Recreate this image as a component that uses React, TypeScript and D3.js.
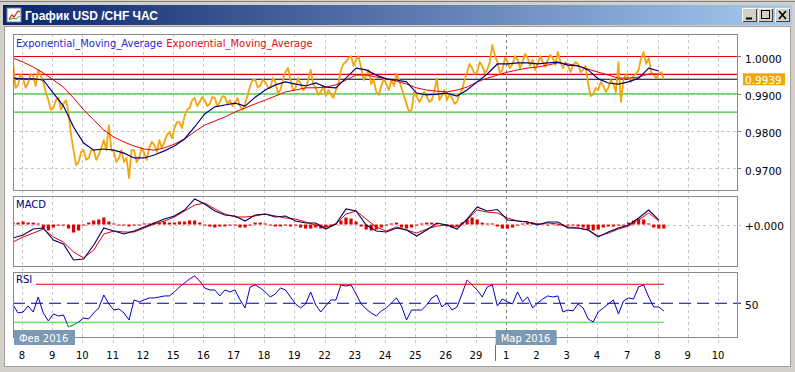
import React from 'react';
import * as d3 from 'd3';

// ---------- data ----------
const dayLabels = ['8','9','10','11','12','15','16','17','18','19','22','23','24','25','26','29','1','2','3','4','7','8','9','10'];
const monthLabels = ['Фев 2016', 'Мар 2016'];
const monthDays = [0, 16];
const priceTicks = [1.0, 0.99, 0.98, 0.97];
const redLevels = [1.0, 0.9952];
const greenLevels = [0.99, 0.9851];
const lastPrice = 0.9939;
const rsiLevels = [70, 50, 30];
const START_HOUR = -7;

// close, every 2 hours
const price = [
  0.9985,0.9916,0.9924,0.9953,0.9942,0.9916,0.9929,0.9953,0.9948,0.9921,
  0.9964,0.9948,0.9932,0.9905,0.9883,0.9857,0.9862,0.9883,0.9889,0.9857,
  0.9873,0.9883,0.9851,0.9790,0.9749,0.9709,0.9717,0.9744,0.9749,0.9723,
  0.9728,0.9749,0.9749,0.9723,0.9736,0.9755,0.9776,0.9749,0.9816,0.9749,
  0.9744,0.9717,0.9728,0.9749,0.9717,0.9728,0.9674,0.9749,0.9749,0.9717,
  0.9728,0.9755,0.9741,0.9723,0.9755,0.9771,0.9763,0.9744,0.9776,0.9755,
  0.9771,0.9790,0.9798,0.9781,0.9808,0.9824,0.9824,0.9808,0.9840,0.9857,
  0.9862,0.9883,0.9889,0.9867,0.9878,0.9891,0.9883,0.9867,0.9873,0.9891,
  0.9889,0.9867,0.9878,0.9894,0.9891,0.9873,0.9883,0.9867,0.9875,0.9889,
  0.9867,0.9857,0.9873,0.9897,0.9921,0.9937,0.9937,0.9918,0.9921,0.9937,
  0.9932,0.9918,0.9916,0.9942,0.9932,0.9902,0.9910,0.9937,0.9958,0.9969,
  0.9937,0.9910,0.9916,0.9942,0.9926,0.9910,0.9916,0.9937,0.9964,0.9926,
  0.9916,0.9897,0.9905,0.9921,0.9894,0.9910,0.9899,0.9889,0.9910,0.9926,
  0.9964,0.9980,0.9985,0.9996,1.0001,0.9975,0.9991,1.0001,0.9969,0.9937,
  0.9948,0.9964,0.9926,0.9937,0.9905,0.9897,0.9921,0.9942,0.9926,0.9910,
  0.9937,0.9921,0.9953,0.9937,0.9916,0.9894,0.9873,0.9851,0.9857,0.9905,
  0.9894,0.9878,0.9889,0.9905,0.9894,0.9878,0.9883,0.9905,0.9942,0.9883,
  0.9894,0.9910,0.9883,0.9899,0.9889,0.9873,0.9878,0.9899,0.9910,0.9937,
  0.9958,0.9980,0.9969,0.9953,0.9958,0.9985,0.9975,0.9956,0.9964,0.9985,
  1.0031,1.0004,0.9985,0.9956,0.9964,0.9996,0.9985,0.9969,0.9980,1.0001,
  0.9991,0.9969,0.9985,1.0007,0.9996,0.9975,0.9991,0.9964,0.9980,1.0001,
  0.9985,0.9972,0.9991,1.0004,0.9996,0.9977,1.0012,0.9985,0.9969,0.9985,
  0.9975,0.9958,0.9977,0.9985,0.9980,0.9958,0.9964,0.9975,0.9926,0.9894,
  0.9899,0.9916,0.9910,0.9932,0.9921,0.9905,0.9916,0.9937,0.9926,0.9905,
  0.9985,0.9878,0.9937,0.9953,0.9942,0.9932,0.9948,0.9953,0.9964,0.9996,
  1.0012,0.9980,0.9996,0.9958,0.9950,0.9942,0.9953,0.9958,0.9939
];

// EMAs, every 8 hours
const emaFast = [
  0.9942,0.9940,0.9940,0.9937,0.9902,0.9867,0.9811,0.9768,0.9749,0.9752,
  0.9749,0.9741,0.9728,0.9728,0.9736,0.9747,0.9760,0.9779,0.9811,0.9846,
  0.9865,0.9870,0.9875,0.9867,0.9891,0.9910,0.9924,0.9932,0.9926,0.9921,
  0.9929,0.9918,0.9916,0.9942,0.9969,0.9964,0.9950,0.9940,0.9937,0.9932,
  0.9902,0.9897,0.9899,0.9902,0.9894,0.9910,0.9932,0.9953,0.9980,0.9980,
  0.9983,0.9983,0.9980,0.9983,0.9985,0.9977,0.9975,0.9964,0.9940,0.9929,
  0.9926,0.9932,0.9942,0.9969,0.9961
];
const emaSlow = [
  0.9996,0.9985,0.9972,0.9956,0.9937,0.9918,0.9889,0.9857,0.9830,0.9803,
  0.9784,0.9771,0.9760,0.9752,0.9749,0.9755,0.9765,0.9779,0.9798,0.9816,
  0.9827,0.9838,0.9851,0.9862,0.9873,0.9883,0.9894,0.9905,0.9910,0.9916,
  0.9916,0.9918,0.9924,0.9937,0.9950,0.9950,0.9945,0.9940,0.9934,0.9926,
  0.9916,0.9910,0.9907,0.9905,0.9910,0.9918,0.9932,0.9942,0.9950,0.9958,
  0.9964,0.9969,0.9972,0.9977,0.9983,0.9980,0.9975,0.9966,0.9958,0.9950,
  0.9942,0.9942,0.9945,0.9953,0.9953
];

// MACD in pips, every 8 hours
const macdMain = [
  -10.4,-8.1,-3.5,-2.7,-12.0,-15.0,-27.4,-26.6,-15.8,-2.7,
  -5.0,-7.3,-5.0,-1.9,1.2,4.2,6.6,11.2,19.7,15.8,
  10.4,7.3,6.6,2.7,7.3,8.1,5.8,6.6,2.7,1.2,
  1.2,-3.5,0.4,12.0,10.4,-0.4,-5.0,-5.8,-2.7,-4.2,
  -8.9,-4.2,1.2,-0.4,-3.5,4.2,13.5,10.4,11.6,3.5,
  2.7,1.9,-0.4,1.9,1.9,-2.7,-2.7,-4.2,-9.6,-5.8,
  -2.7,-0.4,5.0,11.2,3.5
];
const macdSignal = [
  -13.5,-9.6,-6.6,-3.5,-9.6,-13.5,-21.2,-25.8,-19.7,-7.3,
  -5.0,-5.8,-5.8,-2.7,0.4,2.7,5.8,10.4,15.0,16.6,
  12.0,8.1,5.8,5.8,6.6,8.1,6.6,5.0,4.2,1.9,
  -0.4,-1.9,0.4,8.1,10.4,4.2,-1.9,-5.0,-1.9,-4.2,
  -6.6,-3.5,-1.2,-0.4,-1.9,3.5,11.2,9.6,8.9,5.0,
  2.7,1.9,0.4,1.2,0.4,-1.9,-2.7,-4.2,-8.9,-6.6,
  -3.5,-1.2,3.5,8.9,2.7
];
// histogram in pips, every 4 hours
const macdHist = [
  1.5,1.5,2.3,1.5,1.5,0.8,-3.1,-4.6,-2.3,-0.8,
  -0.8,-3.1,-6.2,-4.6,-0.8,1.5,3.1,3.9,5.4,2.3,
  0.8,0,-0.8,-1.5,-0.8,0,0.8,0.8,1.5,1.5,
  2.3,1.5,1.5,2.3,2.3,3.1,3.1,1.5,-0.8,-1.5,
  -2.3,-1.5,-1.5,-0.8,-0.8,-2.3,-2.3,-0.8,1.5,1.5,
  0.8,-0.8,-1.5,-1.5,-0.8,-1.5,-0.8,-2.3,-3.1,-3.1,
  -2.3,-3.1,-2.3,-1.5,0.8,3.1,5.4,4.6,2.3,-1.5,
  -3.9,-4.6,-3.9,-2.3,-0.8,0.8,1.5,-2.3,-3.1,-2.3,
  -0.8,0.8,1.5,1.5,0.8,0,-1.5,-2.3,-1.5,1.5,
  3.9,5.4,3.9,1.5,0.8,0.8,-1.5,-3.1,-3.1,-2.3,
  -0.8,0.8,1.5,1.5,0.8,0.8,0,0.8,0,-0.8,
  -0.8,-0.8,-1.5,-2.3,-3.9,-4.6,-3.9,-2.3,-1.5,-1.5,
  -0.8,-0.8,1.5,3.1,4.6,3.9,0.8,-2.3,-3.1,-3.1
];

// RSI, every 4 hours
const rsi = [
  48.2,39.8,40.8,47.2,40.8,56.6,39.8,31.4,38.7,36.6,
  37.7,25.1,27.2,30.3,34.5,33.5,39.8,45.1,58.7,49.3,
  42.9,44.0,39.8,32.4,53.5,51.4,53.5,55.6,55.6,56.6,
  57.7,57.7,61.9,67.2,71.4,75.6,78.7,73.5,66.1,64.0,
  64.0,57.7,64.0,61.9,64.0,53.5,45.1,67.2,69.3,66.1,
  61.9,56.6,59.8,66.1,64.0,56.6,49.3,45.1,49.3,61.9,
  48.2,40.8,47.2,53.5,53.5,69.3,68.2,69.3,59.8,49.3,
  44.0,39.8,36.6,41.9,45.1,50.3,55.6,47.2,32.4,42.9,
  42.9,42.9,48.2,55.6,58.7,46.1,50.3,42.9,46.1,59.8,
  74.5,69.3,64.0,56.6,67.2,69.3,47.2,54.5,51.4,49.3,
  61.9,51.4,56.6,45.1,50.3,54.5,57.7,56.6,57.7,40.8,
  42.9,41.9,49.3,45.1,33.5,30.3,40.8,45.1,49.3,53.5,
  38.7,52.4,55.6,54.5,67.2,69.3,56.6,46.1,46.1,41.9
];

// ---------- layout ----------
const W = 795, H = 372;
const L = 13, R = 737;
const MAIN = { top: 34, bottom: 190 };
const MACD = { top: 196, bottom: 266 };
const RSIP = { top: 272, bottom: 337 };
const FONT = '"DejaVu Sans", Verdana, sans-serif';
const ORANGE = '#f2a60c';

export default function App() {
  const x = d3.scaleLinear().domain([-7, 567]).range([L, R]);
  const yP = d3.scaleLinear().domain([0.96421, 1.00603]).range([MAIN.bottom, MAIN.top]);
  const yM = d3.scaleLinear().domain([-32, 22]).range([MACD.bottom, MACD.top]);
  const yR = d3.scaleLinear().domain([14.5, 82.9]).range([RSIP.bottom, RSIP.top]);
  const hAt = (step: number) => (i: number) => START_HOUR + i * step;
  const h4 = hAt(4);

  const lineStep = (step: number, ys: (v: number) => number) =>
    d3.line<number>().x((_, i) => x(hAt(step)(i))).y((d) => ys(d));

  const dayX = dayLabels.map((_, d) => x(24 * d));
  const gridBottom = 346;

  const panel = (p: { top: number; bottom: number }, key: string) => (
    <rect key={key} x={L + 0.5} y={p.top + 0.5} width={R - L} height={p.bottom - p.top}
      fill="none" stroke="#8a8a8a" strokeWidth={1} shapeRendering="crispEdges" />
  );

  const btn = (bx: number, glyph: React.ReactNode, key: string) => (
    <g key={key}>
      <rect x={bx} y={8} width={15} height={14} fill="#d4d0c8" />
      <path d={`M${bx + 0.5},${21.5}V${8.5}H${bx + 14.5}`} stroke="#ffffff" fill="none" shapeRendering="crispEdges" />
      <path d={`M${bx + 0.5},${21.5}H${bx + 14.5}V${8.5}`} stroke="#404040" fill="none" shapeRendering="crispEdges" />
      {glyph}
    </g>
  );

  const rsiPath = lineStep(4, yR)(rsi) || '';

  return (
    <svg width={W} height={H} style={{ position: 'absolute', left: 0, top: 0 }} fontFamily={FONT}>
      <defs>
        <linearGradient id="tb" x1="0" x2="1" y1="0" y2="0">
          <stop offset="0" stopColor="#0a246a" />
          <stop offset="1" stopColor="#a6caf0" />
        </linearGradient>
        <clipPath id="cMain"><rect x={L} y={MAIN.top} width={R - L} height={MAIN.bottom - MAIN.top} /></clipPath>
        <clipPath id="cMacd"><rect x={L} y={MACD.top} width={R - L} height={MACD.bottom - MACD.top} /></clipPath>
        <clipPath id="cRsiHi"><rect x={L} y={RSIP.top} width={R - L} height={yR(70) - RSIP.top} /></clipPath>
        <clipPath id="cRsiLo"><rect x={L} y={yR(30)} width={R - L} height={RSIP.bottom - yR(30)} /></clipPath>
      </defs>

      {/* window chrome */}
      <rect x={0} y={0} width={W} height={H} fill="#d4d0c8" />
      <line x1={0} y1={1.5} x2={W} y2={1.5} stroke="#808080" />
      <rect x={3} y={5} width={789} height={20} fill="url(#tb)" />
      <rect x={4} y={26} width={786} height={340} fill="#ffffff" stroke="#a0a0a0" shapeRendering="crispEdges" />

      {/* title */}
      <rect x={7} y={8} width={14} height={14} fill="#ffffff" stroke="#7080a0" />
      <polyline points="9,19 12,15 14,17 18,11 20,12" fill="none" stroke="#d02020" strokeWidth={1.2} />
      <polyline points="9,20 13,18 16,19 20,16" fill="none" stroke="#20a020" strokeWidth={1} />
      <text x={25} y={20} fill="#ffffff" fontFamily='"Liberation Sans", Arial, sans-serif' fontWeight="bold" fontSize={12}>
        График USD /CHF  ЧАС
      </text>
      {btn(742, <line x1={746} y1={18.5} x2={752} y2={18.5} stroke="#000" strokeWidth={2} />, 'b1')}
      {btn(758, <rect x={761.5} y={10.5} width={8} height={8} fill="none" stroke="#000" strokeWidth={1} />, 'b2')}
      {btn(775, <path d="M779,11L786,19M786,11L779,19" stroke="#000" strokeWidth={1.6} />, 'b3')}

      {/* vertical grid */}
      {dayX.map((dx, d) => (
        <line key={'vg' + d} x1={Math.round(dx) + 0.5} x2={Math.round(dx) + 0.5} y1={MAIN.top} y2={gridBottom}
          stroke={d === monthDays[1] ? '#808080' : '#c8c8c8'} strokeDasharray="3,3" shapeRendering="crispEdges" />
      ))}

      {/* horizontal grid main */}
      {priceTicks.map((t) => (
        <line key={'hg' + t} x1={L} x2={R} y1={Math.round(yP(t)) + 0.5} y2={Math.round(yP(t)) + 0.5}
          stroke="#c8c8c8" strokeDasharray="3,3" shapeRendering="crispEdges" />
      ))}

      {/* level lines */}
      {redLevels.map((v) => (
        <line key={'rl' + v} x1={L} x2={R} y1={yP(v)} y2={yP(v)} stroke="#e00000" strokeWidth={1.2} />
      ))}
      {greenLevels.map((v) => (
        <line key={'gl' + v} x1={L} x2={R} y1={yP(v)} y2={yP(v)} stroke="#3cc83c" strokeWidth={1.2} />
      ))}
      <line x1={L} x2={R} y1={yP(lastPrice)} y2={yP(lastPrice)} stroke="#000000" strokeWidth={1.2} />

      {/* price + EMAs */}
      <g clipPath="url(#cMain)">
        <path d={lineStep(2, yP)(price) || ''} fill="none" stroke={ORANGE} strokeWidth={1.8} strokeLinejoin="round" />
        <path d={lineStep(8, yP)(emaSlow) || ''} fill="none" stroke="#e00000" strokeWidth={1} />
        <path d={lineStep(8, yP)(emaFast) || ''} fill="none" stroke="#000080" strokeWidth={1.2} />
      </g>

      {/* legend */}
      <text x={16} y={47} fontSize={10}>
        <tspan fill="#2a2ad0">Exponential_Moving_Average</tspan>
        <tspan fill="#e01010" dx={4}>Exponential_Moving_Average</tspan>
      </text>

      {/* price axis */}
      {priceTicks.map((t) => (
        <g key={'pt' + t}>
          <line x1={R} x2={R + 4} y1={Math.round(yP(t)) + 0.5} y2={Math.round(yP(t)) + 0.5} stroke="#808080" />
          <text x={745} y={yP(t) + 6.3} fontSize={10.5} fill="#000">{t.toFixed(4)}</text>
        </g>
      ))}
      <rect x={743} y={yP(lastPrice) - 6} width={42} height={12} fill={ORANGE} />
      <text x={745} y={yP(lastPrice) + 4.5} fontSize={10.5} fill="#ffffff">{lastPrice.toFixed(4)}</text>

      {/* MACD */}
      <line x1={L} x2={R + 4} y1={Math.round(yM(0)) + 0.5} y2={Math.round(yM(0)) + 0.5}
        stroke="#c8c8c8" strokeDasharray="3,3" shapeRendering="crispEdges" />
      <g clipPath="url(#cMacd)">
        {macdHist.map((v, i) => (
          <rect key={'h' + i} x={x(h4(i)) - 1.6} width={3.2}
            y={Math.min(yM(0), yM(v))} height={Math.max(1, Math.abs(yM(v) - yM(0)))} fill="#e00000" />
        ))}
        <path d={lineStep(8, yM)(macdSignal) || ''} fill="none" stroke="#e00000" strokeWidth={1} />
        <path d={lineStep(8, yM)(macdMain) || ''} fill="none" stroke="#000060" strokeWidth={1.1} />
      </g>
      <text x={16} y={207.5} fontSize={10} fill="#000080">MACD</text>
      <text x={745} y={yM(0) + 5} fontSize={10.5} fill="#000">+0.000</text>

      {/* RSI */}
      <line x1={36} x2={x(h4(rsi.length - 1))} y1={yR(rsiLevels[0])} y2={yR(rsiLevels[0])} stroke="#e00000" strokeWidth={1.2} />
      <line x1={L} x2={x(h4(rsi.length - 1))} y1={yR(rsiLevels[2])} y2={yR(rsiLevels[2])} stroke="#33dd33" strokeWidth={1.2} />
      <line x1={L} x2={R + 4} y1={yR(rsiLevels[1])} y2={yR(rsiLevels[1])} stroke="#000090" strokeWidth={1.2} strokeDasharray="12,6" />
      <path d={rsiPath} fill="none" stroke="#0000c8" strokeWidth={1} />
      <g clipPath="url(#cRsiHi)">
        <path d={rsiPath} fill="none" stroke="#e020e0" strokeWidth={1} />
      </g>
      <g clipPath="url(#cRsiLo)">
        <path d={rsiPath} fill="none" stroke="#22dd22" strokeWidth={1} />
      </g>
      <text x={16} y={282.5} fontSize={10} fill="#000080">RSI</text>
      <text x={745} y={yR(50) + 5.7} fontSize={10.5} fill="#000">50</text>

      {/* panel frames */}
      {panel(MAIN, 'pm')}
      {panel(MACD, 'pmacd')}
      {panel(RSIP, 'prsi')}

      {/* time axis */}
      {dayLabels.map((lab, d) => (
        <text key={'dl' + d} x={dayX[d]} y={359} fontSize={10} textAnchor="middle" fill="#000">{lab}</text>
      ))}
      <line x1={495.5} x2={495.5} y1={345} y2={361} stroke="#707070" />
      {monthLabels.map((m, k) => {
        const bx = k === 0 ? 14 : x(24 * monthDays[k]) - 10.5;
        return (
          <g key={'ml' + k}>
            <rect x={bx} y={330} width={61} height={15} fill="#7d98b3" />
            <text x={bx + 5} y={341.5} fontSize={10} fill="#ffffff">{m}</text>
          </g>
        );
      })}
    </svg>
  );
}
